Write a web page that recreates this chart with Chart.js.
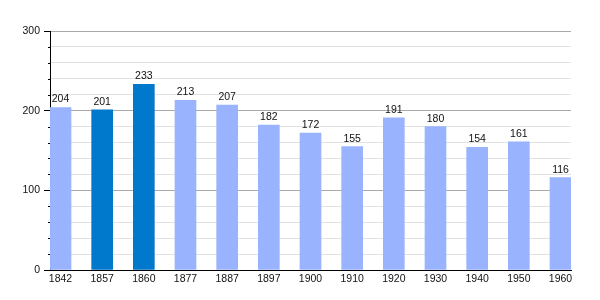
<!DOCTYPE html>
<html>
<head>
<meta charset="utf-8">
<script src="https://cdn.jsdelivr.net/npm/chart.js@4/dist/chart.umd.min.js"></script>
<style>
  html, body { margin: 0; padding: 0; background: #fff; }
  #wrap { width: 600px; height: 300px; }
</style>
</head>
<body>
<div id="wrap"><canvas id="c"></canvas></div>
<script>
// données
const years = ['1842', '1857', '1860', '1877', '1887', '1897', '1900', '1910', '1920', '1930', '1940', '1950', '1960'];
const population = [204, 201, 233, 213, 207, 182, 172, 155, 191, 180, 154, 161, 116];
const highlighted = ['1857', '1860'];
const yTicks = [0, 100, 200, 300];

const lightBlue = '#99b3ff';
const darkBlue = '#0079cc';
const fontFamily = '"Liberation Sans", Arial, sans-serif';

// petites graduations et valeurs au-dessus des barres
const extras = {
    id: 'extras',
    afterDatasetsDraw(chart) {
        const ctx = chart.ctx;
        const y = chart.scales.y;
        ctx.save();
        ctx.strokeStyle = '#000';
        ctx.lineWidth = 1;
        for (let v = 0; v <= 300; v += 20) {
            if (v % 100 === 0) continue;
            const py = Math.round(y.getPixelForValue(v)) + 0.5;
            ctx.beginPath();
            ctx.moveTo(y.right - 2, py);
            ctx.lineTo(y.right, py);
            ctx.stroke();
        }
        ctx.fillStyle = '#111';
        ctx.font = '10.5px ' + fontFamily;
        ctx.textAlign = 'center';
        ctx.textBaseline = 'alphabetic';
        chart.getDatasetMeta(0).data.forEach((bar, i) => {
            ctx.fillText(population[i], bar.x, bar.y - 5);
        });
        ctx.restore();
    }
};

new Chart(document.getElementById('c'), {
    type: 'bar',
    data: {
        datasets: [{
            data: population.map((v, i) => ({ x: i, y: v })),
            backgroundColor: years.map(y => highlighted.includes(y) ? darkBlue : lightBlue),
            barThickness: 21,
            borderWidth: 0
        }]
    },
    options: {
        responsive: true,
        maintainAspectRatio: false,
        animation: false,
        layout: { padding: { top: 31, right: 29, left: 0, bottom: 0 } },
        plugins: { legend: { display: false }, tooltip: { enabled: false } },
        scales: {
            x: {
                type: 'linear',
                offset: false,
                min: -0.252,
                max: 12.252,
                grid: { display: false, drawTicks: false },
                border: { color: '#000', width: 1 },
                afterBuildTicks: s => { s.ticks = years.map((_, i) => ({ value: i })); },
                afterFit: s => { s.height = 30; },
                ticks: {
                    padding: 3,
                    color: '#111',
                    maxRotation: 0,
                    autoSkip: false,
                    font: { family: fontFamily, size: 10.5 },
                    callback: v => years[v]
                }
            },
            y: {
                min: 0,
                max: 300,
                afterBuildTicks: s => { s.ticks = []; for (let v = 0; v <= 300; v += 20) s.ticks.push({ value: v }); },
                afterFit: s => { s.width = 50; },
                border: { color: '#000', width: 1 },
                grid: {
                    tickLength: 6,
                    color: c => c.tick.value % 100 === 0 ? '#aaaaaa' : '#e2e2e2',
                    tickColor: c => c.tick.value % 100 === 0 ? '#000' : 'rgba(0,0,0,0)'
                },
                ticks: {
                    padding: 4,
                    color: '#111',
                    autoSkip: false,
                    font: { family: fontFamily, size: 10.5 },
                    callback: v => yTicks.includes(v) ? String(v) : ''
                }
            }
        }
    },
    plugins: [extras]
});
</script>
</body>
</html>
